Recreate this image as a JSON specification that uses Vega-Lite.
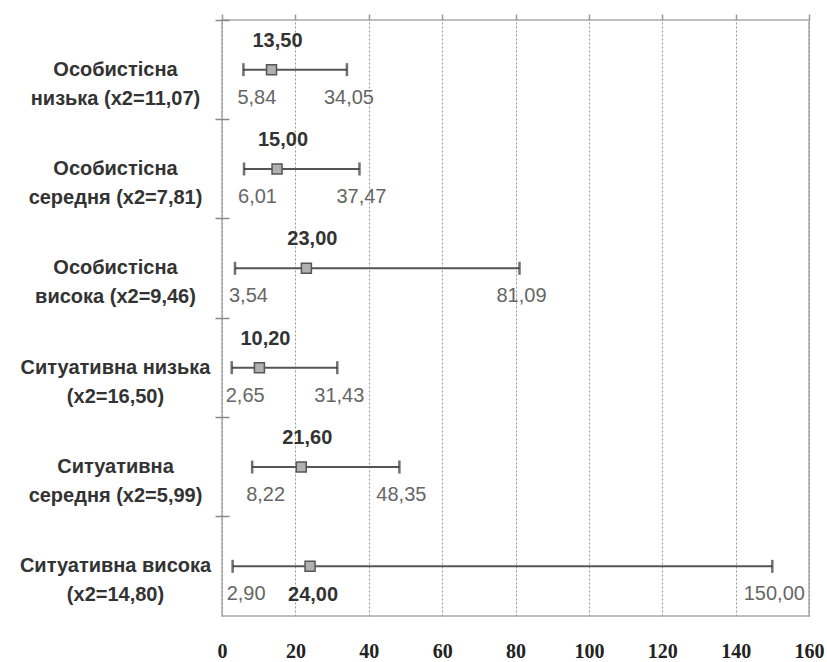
{
  "$schema": "https://vega.github.io/schema/vega-lite/v6.json",
  "width": 587,
  "height": 596,
  "autosize": {"type": "none"},
  "padding": {"left": 222, "top": 20, "right": 18, "bottom": 46},
  "background": "white",
  "data": {
    "values": [
      {"cat": "Особистісна|низька (x2=11,07)", "est": 13.5, "lo": 5.84, "hi": 34.05},
      {"cat": "Особистісна|середня (x2=7,81)", "est": 15.0, "lo": 6.01, "hi": 37.47},
      {"cat": "Особистісна|висока (x2=9,46)", "est": 23.0, "lo": 3.54, "hi": 81.09},
      {"cat": "Ситуативна низька|(x2=16,50)", "est": 10.2, "lo": 2.65, "hi": 31.43},
      {"cat": "Ситуативна|середня  (x2=5,99)", "est": 21.6, "lo": 8.22, "hi": 48.35},
      {"cat": "Ситуативна висока|(x2=14,80)", "est": 24.0, "lo": 2.9, "hi": 150.0}
    ]
  },
  "encoding": {
    "y": {
      "field": "cat",
      "type": "nominal",
      "sort": null,
      "scale": {"paddingInner": 0, "paddingOuter": 0},
      "axis": {
        "title": null,
        "domain": false,
        "grid": false,
        "ticks": true,
        "tickSize": 14,
        "offset": -7,
        "bandPosition": 0,
        "tickColor": "#888",
        "tickWidth": 1.5,
        "labelExpr": "split(datum.value, '|')",
        "labelAlign": "center",
        "labelBaseline": "middle",
        "labelPadding": 100,
        "labelFont": "Liberation Sans",
        "labelFontWeight": "bold",
        "labelFontSize": 20,
        "labelLineHeight": 29,
        "labelColor": "#333",
        "labelLimit": 0
      }
    }
  },
  "layer": [
    {
      "mark": {"type": "rule", "color": "#555", "strokeWidth": 2},
      "encoding": {
        "x": {
          "field": "lo",
          "type": "quantitative",
          "scale": {"domain": [0, 160], "nice": false, "zero": false},
          "axis": {
            "title": null,
            "orient": "bottom",
            "domain": false,
            "ticks": false,
            "values": [0, 20, 40, 60, 80, 100, 120, 140, 160],
            "grid": true,
            "gridDash": [2, 2],
            "gridColor": "#999",
            "gridWidth": 1,
            "labelFont": "Liberation Serif",
            "labelFontWeight": "bold",
            "labelFontSize": 20,
            "labelColor": "#222",
            "labelPadding": 25,
            "labelFlush": false,
            "labelOverlap": false
          }
        },
        "x2": {"field": "hi"}
      }
    },
    {
      "mark": {"type": "tick", "color": "#333", "thickness": 2.5, "size": 13, "orient": "vertical"},
      "encoding": {
        "x": {
          "field": "lo",
          "type": "quantitative",
          "axis": {
            "title": null,
            "orient": "top",
            "domain": false,
            "labels": false,
            "grid": false,
            "ticks": true,
            "tickSize": 6,
            "tickColor": "#999",
            "tickWidth": 1.5,
            "values": [0, 20, 40, 60, 80, 100, 120, 140, 160]
          }
        }
      }
    },
    {
      "mark": {"type": "tick", "color": "#333", "thickness": 2.5, "size": 13, "orient": "vertical"},
      "encoding": {"x": {"field": "hi", "type": "quantitative", "axis": null}}
    },
    {
      "mark": {"type": "point", "shape": "square", "filled": true, "size": 100, "color": "#b0b0b0", "fill": "#b0b0b0", "stroke": "#555", "strokeWidth": 1.5, "opacity": 1},
      "encoding": {"x": {"field": "est", "type": "quantitative", "axis": null}}
    },
    {
      "transform": [{"filter": "datum.cat != 'Ситуативна висока|(x2=14,80)'"}],
      "mark": {"type": "text", "font": "Liberation Sans", "fontWeight": "bold", "fontSize": 20, "color": "#333", "dy": -29, "dx": 6, "baseline": "middle"},
      "encoding": {
        "x": {"field": "est", "type": "quantitative", "axis": null},
        "text": {"field": "est", "type": "quantitative", "format": ".2f"}
      }
    },
    {
      "transform": [{"filter": "datum.cat == 'Ситуативна висока|(x2=14,80)'"}],
      "mark": {"type": "text", "font": "Liberation Sans", "fontWeight": "bold", "fontSize": 20, "color": "#333", "dy": 29, "dx": 3, "baseline": "middle"},
      "encoding": {
        "x": {"field": "est", "type": "quantitative", "axis": null},
        "text": {"field": "est", "type": "quantitative", "format": ".2f"}
      }
    },
    {
      "mark": {"type": "text", "font": "Liberation Sans", "fontSize": 20, "color": "#666", "dy": 28, "dx": -6, "align": "left", "baseline": "middle"},
      "encoding": {
        "x": {"field": "lo", "type": "quantitative", "axis": null},
        "text": {"field": "lo", "type": "quantitative", "format": ".2f"}
      }
    },
    {
      "mark": {"type": "text", "font": "Liberation Sans", "fontSize": 20, "color": "#666", "dy": 28, "dx": 2, "align": "center", "baseline": "middle"},
      "encoding": {
        "x": {"field": "hi", "type": "quantitative", "axis": null},
        "text": {"field": "hi", "type": "quantitative", "format": ".2f"}
      }
    }
  ],
  "resolve": {"axis": {"x": "independent"}},
  "config": {
    "locale": {"number": {"decimal": ",", "thousands": " ", "grouping": [3], "currency": ["", ""]}},
    "view": {"stroke": "#aaa", "strokeWidth": 1.5}
  }
}
